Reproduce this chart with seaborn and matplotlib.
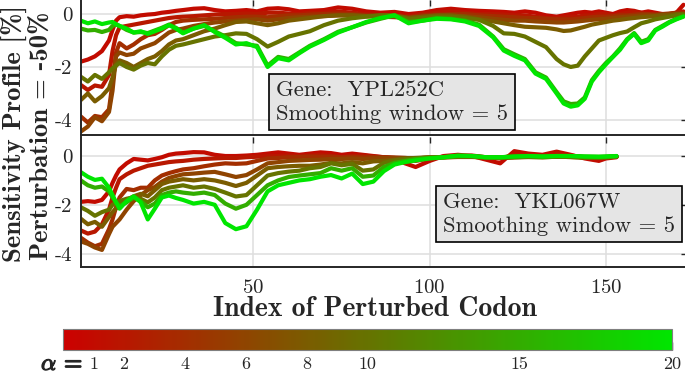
import numpy as np
import pandas as pd
import seaborn as sns
import matplotlib
matplotlib.use("Agg")
import matplotlib.pyplot as plt
import matplotlib.patheffects as pe
from matplotlib.colors import LinearSegmentedColormap, Normalize

# smoothing weights (alpha) shown in the colour bar
ALPHAS = [1, 2, 4, 6, 8, 10, 15, 20]

# gene YPL252C, sensitivity profile
top_x = [1, 3, 5, 7, 9, 10, 11, 12, 14, 16, 18, 20, 22, 24, 26, 28, 30, 33, 36, 39,
         42, 45, 48, 51, 54, 57, 60, 63, 66, 70, 74, 78, 82, 86, 90, 94, 98, 102, 106, 110,
         114, 118, 121, 124, 127, 130, 133, 136, 138, 140, 142, 144, 146, 148, 150, 152, 154, 156, 158, 160,
         162, 164, 166, 168, 170, 172]
top_a1 = [-1.80, -1.72, -1.60, -1.40, -1.00, -0.60, -0.25, -0.12, -0.08, -0.10,
          -0.05, -0.02, 0.00, 0.05, 0.08, 0.12, 0.15, 0.20, 0.22, 0.15,
          0.10, 0.12, 0.15, 0.10, 0.20, 0.22, 0.18, 0.10, 0.12, 0.15,
          0.25, 0.20, 0.10, 0.05, 0.08, 0.00, 0.05, 0.15, 0.20, 0.15,
          0.12, 0.10, 0.08, 0.05, 0.10, 0.05, -0.05, -0.10, -0.05, 0.00,
          0.05, 0.08, 0.05, 0.10, 0.05, 0.00, 0.10, 0.15, 0.12, 0.05,
          0.10, 0.05, 0.00, -0.05, 0.05, 0.35]
top_a2 = [-2.68, -2.87, -2.70, -2.75, -2.30, -1.40, -0.80, -0.50, -0.45, -0.40,
          -0.35, -0.30, -0.25, -0.20, -0.15, -0.12, -0.10, -0.08, -0.05, -0.02,
          0.00, 0.00, 0.02, 0.00, 0.05, 0.05, 0.02, 0.00, 0.05, 0.05,
          0.10, 0.05, 0.00, -0.05, -0.05, -0.08, 0.00, 0.05, 0.10, 0.05,
          0.00, 0.00, -0.02, -0.05, -0.05, -0.10, -0.15, -0.15, -0.12, -0.10,
          -0.10, -0.05, -0.05, 0.00, 0.00, -0.05, 0.00, 0.05, 0.08, 0.05,
          0.00, 0.00, -0.05, 0.00, 0.05, 0.10]
top_a4 = [-3.87, -4.10, -3.85, -3.90, -3.60, -2.60, -1.45, -1.10, -1.30, -1.15,
          -0.95, -0.80, -0.75, -0.60, -0.42, -0.30, -0.25, -0.22, -0.20, -0.18,
          -0.15, -0.12, -0.10, -0.10, -0.12, -0.08, -0.05, -0.05, -0.02, 0.00,
          0.02, 0.00, -0.05, -0.08, -0.10, -0.12, -0.05, -0.02, 0.00, 0.00,
          -0.05, -0.08, -0.10, -0.12, -0.15, -0.15, -0.18, -0.20, -0.20, -0.20,
          -0.18, -0.15, -0.12, -0.10, -0.10, -0.08, -0.05, -0.05, -0.02, 0.00,
          0.00, -0.02, 0.00, 0.02, 0.05, 0.05]
top_a6 = [-4.44, -4.25, -3.90, -4.05, -3.70, -2.90, -1.60, -1.45, -1.55, -1.50,
          -1.30, -1.20, -1.10, -0.90, -0.70, -0.60, -0.55, -0.45, -0.38, -0.32,
          -0.28, -0.25, -0.22, -0.20, -0.25, -0.20, -0.15, -0.12, -0.10, -0.08,
          -0.05, -0.05, -0.08, -0.10, -0.12, -0.15, -0.10, -0.08, -0.05, -0.08,
          -0.12, -0.18, -0.22, -0.25, -0.25, -0.28, -0.30, -0.32, -0.32, -0.30,
          -0.28, -0.25, -0.22, -0.20, -0.18, -0.15, -0.12, -0.10, -0.08, -0.05,
          -0.05, -0.05, -0.02, 0.00, 0.00, 0.00]
top_a8 = [-3.25, -3.00, -3.30, -3.10, -2.80, -2.40, -1.90, -1.75, -1.85, -2.00,
          -1.85, -1.70, -1.60, -1.40, -1.15, -1.00, -0.95, -0.80, -0.65, -0.55,
          -0.42, -0.30, -0.28, -0.35, -0.42, -0.35, -0.25, -0.20, -0.15, -0.08,
          -0.05, -0.05, -0.08, -0.05, -0.05, -0.15, -0.10, -0.05, -0.05, -0.10,
          -0.20, -0.28, -0.35, -0.42, -0.48, -0.50, -0.52, -0.58, -0.64, -0.62,
          -0.55, -0.48, -0.40, -0.35, -0.30, -0.25, -0.22, -0.18, -0.15, -0.12,
          -0.10, -0.08, -0.05, -0.05, 0.00, 0.00]
top_a10 = [-2.37, -2.55, -2.30, -2.45, -2.20, -2.05, -1.95, -1.85, -2.00, -2.10,
           -1.95, -1.85, -1.90, -1.60, -1.35, -1.20, -1.15, -1.05, -0.95, -0.85,
           -0.80, -0.73, -0.75, -0.95, -1.23, -1.05, -0.85, -0.75, -0.65, -0.42,
           -0.25, -0.16, -0.10, -0.05, -0.05, -0.20, -0.15, -0.10, -0.10, -0.15,
           -0.22, -0.45, -0.73, -0.75, -0.85, -1.05, -1.25, -1.70, -1.90, -2.00,
           -1.95, -1.60, -1.30, -1.00, -0.90, -0.80, -0.72, -0.66, -0.50, -0.35,
           -0.28, -0.20, -0.15, -0.10, -0.05, -0.02]
top_a15 = [-0.55, -0.62, -0.60, -0.68, -0.60, -0.45, -0.40, -0.45, -0.60, -0.70,
           -0.68, -0.72, -0.62, -0.52, -0.40, -0.52, -0.70, -0.55, -0.45, -0.65,
           -0.85, -1.10, -1.15, -1.20, -1.95, -1.62, -1.70, -1.45, -1.20, -0.95,
           -0.67, -0.50, -0.32, -0.18, -0.05, -0.30, -0.25, -0.15, -0.18, -0.25,
           -0.40, -0.85, -1.33, -1.52, -1.70, -2.20, -2.40, -2.95, -3.30, -3.40,
           -3.38, -3.15, -2.50, -2.15, -1.85, -1.60, -1.30, -0.95, -0.72, -1.05,
           -0.95, -0.60, -0.45, -0.30, -0.18, -0.08]
top_a20 = [-0.25, -0.35, -0.28, -0.38, -0.32, -0.30, -0.38, -0.45, -0.55, -0.70,
           -0.65, -0.75, -0.65, -0.55, -0.42, -0.55, -0.73, -0.55, -0.42, -0.68,
           -0.90, -1.15, -1.10, -1.25, -2.00, -1.67, -1.75, -1.48, -1.23, -0.98,
           -0.70, -0.50, -0.30, -0.15, -0.05, -0.35, -0.25, -0.18, -0.20, -0.28,
           -0.45, -0.88, -1.38, -1.58, -1.75, -2.25, -2.45, -3.00, -3.38, -3.50,
           -3.45, -3.20, -2.55, -2.20, -1.90, -1.62, -1.35, -0.98, -0.75, -1.10,
           -1.00, -0.62, -0.48, -0.32, -0.20, -0.10]

# gene YKL067W, lower panel
bot_x = [1, 3, 5, 7, 9, 10, 11, 12, 14, 16, 18, 20, 22, 24, 26, 28, 30, 33, 36, 39,
         42, 45, 48, 51, 54, 57, 60, 63, 66, 69, 72, 75, 78, 81, 84, 87, 90, 93, 96, 100,
         104, 108, 112, 116, 120, 124, 128, 132, 136, 140, 144, 148, 150, 153]
bot_a1 = [-1.88, -1.85, -1.88, -1.80, -1.45, -1.10, -0.80, -0.55, -0.30, -0.12,
          -0.15, -0.18, -0.12, -0.05, 0.05, 0.10, 0.12, 0.16, 0.15, 0.05,
          0.00, 0.00, 0.02, 0.05, 0.10, 0.15, 0.10, 0.05, 0.10, 0.15,
          0.12, 0.05, 0.10, 0.05, 0.00, -0.05, -0.10, -0.30, -0.45, -0.20,
          0.00, 0.05, 0.00, -0.15, -0.30, 0.20, 0.10, 0.05, 0.18, 0.05,
          -0.10, -0.20, -0.10, -0.05]
bot_a2 = [-3.05, -3.18, -3.10, -2.80, -2.20, -1.70, -1.30, -0.95, -0.75, -0.60,
          -0.50, -0.40, -0.35, -0.30, -0.25, -0.22, -0.20, -0.15, -0.12, -0.10,
          -0.08, -0.08, -0.05, -0.03, 0.00, 0.00, 0.02, 0.00, 0.02, 0.05,
          0.00, -0.05, 0.00, 0.02, -0.02, -0.05, -0.08, -0.15, -0.20, -0.10,
          -0.02, 0.00, 0.02, -0.05, -0.10, 0.05, 0.05, 0.00, 0.08, 0.02,
          -0.05, -0.10, -0.05, -0.02]
bot_a4 = [-3.35, -3.55, -3.70, -3.60, -3.00, -2.60, -2.10, -1.70, -1.35, -1.40,
          -1.30, -1.30, -1.00, -0.80, -0.70, -0.62, -0.55, -0.50, -0.42, -0.35,
          -0.30, -0.32, -0.30, -0.20, -0.10, -0.08, -0.05, -0.04, -0.02, -0.03,
          -0.02, -0.05, -0.03, -0.05, -0.04, -0.05, -0.06, -0.08, -0.10, -0.06,
          -0.04, -0.02, -0.02, -0.05, -0.06, -0.02, 0.00, -0.02, 0.00, -0.02,
          -0.05, -0.06, -0.04, -0.02]
bot_a6 = [-3.50, -3.60, -3.75, -3.85, -3.20, -2.90, -2.75, -2.60, -2.20, -1.85,
          -1.60, -1.40, -1.27, -1.05, -0.90, -0.82, -0.75, -0.72, -0.68, -0.65,
          -0.75, -0.86, -0.78, -0.55, -0.30, -0.25, -0.20, -0.18, -0.16, -0.15,
          -0.12, -0.12, -0.10, -0.12, -0.10, -0.08, -0.08, -0.08, -0.10, -0.08,
          -0.06, -0.04, -0.04, -0.06, -0.08, -0.05, -0.03, -0.04, -0.03, -0.04,
          -0.06, -0.07, -0.05, -0.03]
bot_a8 = [-2.57, -2.80, -2.70, -2.90, -2.50, -2.30, -2.15, -2.00, -1.80, -1.65,
          -1.55, -1.65, -1.40, -1.15, -1.05, -1.00, -0.95, -1.00, -0.95, -1.00,
          -1.10, -1.23, -1.10, -0.80, -0.50, -0.45, -0.42, -0.40, -0.40, -0.35,
          -0.28, -0.30, -0.25, -0.30, -0.22, -0.20, -0.15, -0.10, -0.08, -0.05,
          -0.05, -0.03, -0.03, -0.06, -0.08, -0.05, -0.04, -0.05, -0.03, -0.04,
          -0.06, -0.07, -0.05, -0.03]
bot_a10 = [-2.10, -2.25, -2.45, -2.30, -2.20, -2.00, -1.90, -1.85, -1.75, -1.70,
           -1.75, -1.90, -1.70, -1.40, -1.30, -1.25, -1.20, -1.30, -1.25, -1.35,
           -1.50, -1.66, -1.60, -1.20, -0.80, -0.70, -0.64, -0.60, -0.50, -0.45,
           -0.30, -0.38, -0.32, -0.60, -0.55, -0.28, -0.18, -0.12, -0.10, -0.06,
           -0.04, -0.02, -0.02, -0.06, -0.08, -0.05, -0.04, -0.05, -0.03, -0.04,
           -0.06, -0.07, -0.05, -0.03]
bot_a15 = [-1.00, -1.20, -1.30, -1.25, -1.45, -1.70, -1.90, -2.05, -1.90, -1.70,
           -1.85, -2.10, -1.95, -1.60, -1.50, -1.45, -1.50, -1.55, -1.50, -1.60,
           -1.95, -2.16, -2.00, -1.60, -1.20, -1.00, -0.86, -0.80, -0.75, -0.70,
           -0.50, -0.60, -0.50, -0.85, -0.80, -0.45, -0.28, -0.20, -0.12, -0.08,
           -0.05, 0.00, 0.00, -0.05, -0.05, -0.02, 0.00, -0.02, 0.00, 0.00,
           -0.02, -0.03, -0.02, 0.00]
bot_a20 = [-0.66, -0.85, -0.98, -0.93, -1.30, -1.60, -1.90, -2.16, -1.85, -1.65,
           -1.90, -2.60, -2.16, -1.70, -1.62, -1.72, -1.80, -1.95, -1.88, -2.00,
           -2.75, -3.00, -2.88, -2.20, -1.45, -1.20, -1.10, -1.00, -0.95, -0.85,
           -0.78, -0.92, -0.72, -1.15, -1.05, -0.62, -0.35, -0.25, -0.18, -0.10,
           -0.05, 0.02, 0.00, -0.05, -0.05, -0.02, 0.00, -0.02, 0.00, 0.00,
           -0.02, -0.03, -0.02, 0.00]

top_lines = [top_a1, top_a2, top_a4, top_a6, top_a8, top_a10, top_a15, top_a20]
bot_lines = [bot_a1, bot_a2, bot_a4, bot_a6, bot_a8, bot_a10, bot_a15, bot_a20]


def long_table(x, lines):
    parts = [pd.DataFrame({"codon": x, "value": v, "alpha": a})
             for a, v in zip(ALPHAS, lines)]
    return pd.concat(parts, ignore_index=True)


top_df = long_table(top_x, top_lines)
bot_df = long_table(bot_x, bot_lines)

# style
sns.set_theme(style="white")
plt.rcParams["font.family"] = ["cmr10", "DejaVu Serif"]
plt.rcParams["mathtext.fontset"] = "cm"
plt.rcParams["axes.unicode_minus"] = False
plt.rcParams["axes.formatter.use_mathtext"] = True

INK = "#262626"
cmap = LinearSegmentedColormap.from_list("red_green", [(0.8, 0, 0), (0, 0.9, 0)])
norm = Normalize(0, 20)

W, H = 685, 374


def px_box(left, top, right, bottom):
    return [left / W, 1 - bottom / H, (right - left) / W, (bottom - top) / H]


fig = plt.figure(figsize=(W / 100, H / 100), dpi=100)
ax_top = fig.add_axes(px_box(80.8, 0, 687, 135))
ax_bot = fig.add_axes(px_box(80.8, 137, 687, 266.5))
cax = fig.add_axes(px_box(63, 329, 672, 350))

for ax, df in [(ax_top, top_df), (ax_bot, bot_df)]:
    sns.lineplot(data=df, x="codon", y="value", hue="alpha", palette=cmap,
                 hue_norm=norm, linewidth=3, legend=False, ax=ax)
    ax.set_xlim(1, 173)
    ax.set_xticks([50, 100, 150])
    ax.set_yticks([-4, -2, 0])
    ax.set_yticklabels(["-4", "-2", "0"])
    ax.set_xlabel("")
    ax.set_ylabel("")
    ax.grid(True, color="#dedede", linewidth=1.1)
    ax.set_axisbelow(True)
    ax.tick_params(direction="in", length=4, width=1, color=INK,
                   labelcolor=INK, labelsize=15, top=True, right=True, pad=6)
    for s in ax.spines.values():
        s.set_color(INK)
        s.set_linewidth(1.4)

ax_top.set_ylim(-4.57, 0.53)
ax_bot.set_ylim(-4.53, 0.78)
ax_top.tick_params(labelbottom=False)
ax_top.spines["top"].set_visible(False)
ax_bot.spines["top"].set_visible(False)
ax_bot.tick_params(axis="x", pad=9)

box_style = dict(boxstyle="square,pad=0.3", fc="#e5e5e5", ec="black", lw=1.2)
ax_top.text(0.322, 0.244, "Gene:  YPL252C\nSmoothing window = 5",
            transform=ax_top.transAxes, ha="left", va="center", fontsize=16.3,
            linespacing=1.25, color=INK, bbox=box_style)
ax_bot.text(0.5975, 0.405, "Gene:  YKL067W\nSmoothing window = 5",
            transform=ax_bot.transAxes, ha="left", va="center", fontsize=16.3,
            linespacing=1.25, color=INK, bbox=box_style)

# axis labels
fig.text(15 / W, 1 - 134 / H, "Sensitivity Profile [%]", rotation=90,
         ha="center", va="center", fontfamily="cmb10", fontsize=19.2, color=INK)
fig.text(42 / W, 1 - 136 / H, "Perturbation = -50%", rotation=90,
         ha="center", va="center", fontfamily="cmb10", fontsize=19.2, color=INK)
fig.text(375 / W, 1 - 309 / H, "Index of Perturbed Codon",
         ha="center", va="center", fontfamily="cmb10", fontsize=20, color=INK)

# colour bar for alpha
sm = plt.cm.ScalarMappable(norm=norm, cmap=cmap)
cb = fig.colorbar(sm, cax=cax, orientation="horizontal", ticks=ALPHAS)
cb.set_ticklabels([str(a) for a in ALPHAS])
cb.ax.tick_params(direction="in", length=6, width=1, color=INK,
                  labelcolor=INK, labelsize=13, pad=5)
cb.outline.set_edgecolor("#7f7f7f")
cb.outline.set_linewidth(0.8)
fig.text(83 / W, 1 - 364 / H, r"$\alpha$ =", ha="right", va="center",
         fontfamily="cmb10", fontsize=17, color=INK,
         path_effects=[pe.withStroke(linewidth=0.9, foreground=INK)])

fig.savefig("out.png", dpi=100)
